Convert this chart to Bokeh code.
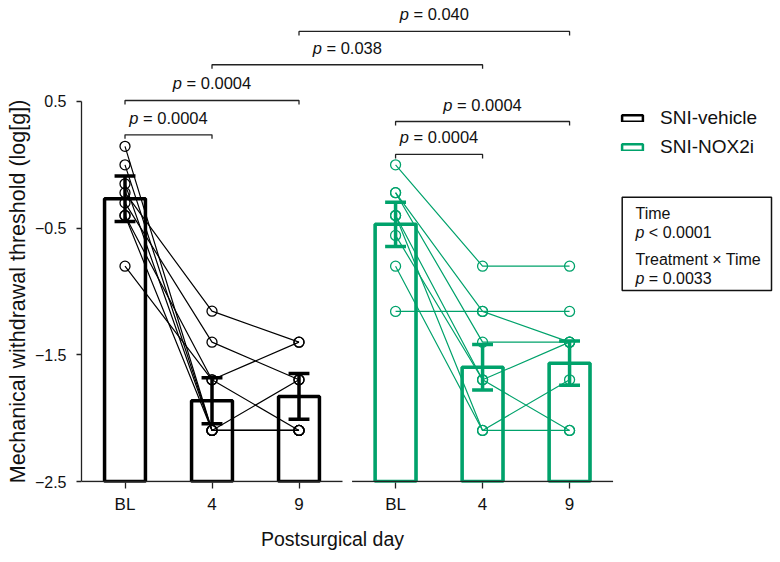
from bokeh.plotting import figure
from bokeh.models import Range1d, FixedTicker, Legend, LegendItem, Title
from bokeh.core.properties import value
from bokeh.embed import file_html
from bokeh.resources import INLINE

FONT = "Liberation Sans"

# ---------------- data ----------------
days = ["BL", "4", "9"]
group_names = ["SNI-vehicle", "SNI-NOX2i"]
group_colors = ["#000000", "#00A26B"]
x_title = "Postsurgical day"
y_title = "Mechanical withdrawal threshold (log[g])"

# individual animals, mechanical withdrawal threshold (log[g])
veh_bl = [0.146, 0.0, -0.15, -0.22, -0.30, -0.40, -0.80, -0.40]
veh_d4 = [-2.097, -2.097, -2.097, -1.155, -1.40, -1.697, -1.697, -2.097]
veh_d9 = [-2.097, -1.697, -2.097, -1.40, -1.697, -1.40, -2.097, -2.097]

nox_bl = [0.0, -1.157, -0.22, -0.22, -0.40, -0.40, -0.557, -0.80]
nox_d4 = [-0.80, -1.157, -1.157, -1.40, -1.697, -2.097, -1.697, -2.097]
nox_d9 = [-0.80, -1.157, -1.40, -1.40, -1.40, -1.697, -2.097, -2.097]

# group means and SEM (bars / error bars)
veh_mean = [-0.268, -1.862, -1.828]
veh_sem = [0.179, 0.182, 0.180]
nox_mean = [-0.470, -1.598, -1.566]
nox_sem = [0.175, 0.180, 0.175]

# pairwise comparisons: group/day of each end, p value, bracket height
cmp_ga = [0, 0, 1, 1, 0, 0]
cmp_da = [0, 0, 0, 0, 1, 2]
cmp_gb = [0, 0, 1, 1, 1, 1]
cmp_db = [1, 2, 1, 2, 1, 2]
cmp_p = ["0.0004", "0.0004", "0.0004", "0.0004", "0.038", "0.040"]
cmp_y = [0.237, 0.508, 0.082, 0.342, 0.790, 1.053]

# two-way ANOVA summary
stats_terms = ["Time", "Treatment × Time"]
stats_p = ["< 0.0001", "= 0.0033"]

# ---------------- layout constants ----------------
GROUP_SHIFT = 3.11
BAR_W = 0.47
CAP = 0.12
Y_MIN, Y_MAX = -2.5, 0.5
PX_X = 87.0      # pixels per x unit
PX_Y = 126.67    # pixels per y unit
LEFT = 81        # frame left (px)
Y05 = 101        # pixel row of y = 0.5
FRAME_BOTTOM = 482
X_TITLE_CENTER = 332   # page px


def xpos(g, d):
    return g * GROUP_SHIFT + d


# Arial / Liberation Sans advance widths (em)
CW = {"p": .556, " ": .278, "=": .584, "<": .584, ".": .278, "a": .556, "b": .556,
      "c": .5, "d": .556, "e": .556, "g": .556, "h": .556, "i": .222, "l": .222,
      "m": .833, "n": .556, "o": .556, "r": .333, "s": .5, "t": .278, "u": .556,
      "w": .722, "y": .5, "M": .833, "P": .667, "(": .333, ")": .333, "[": .278, "]": .278}


def tw(s, size):
    return sum(CW.get(c, 0.556) for c in s) * size


W, H = 780, 562
p = figure(width=W, height=H,
           x_range=Range1d(-0.5, -0.5 + (W - LEFT) / PX_X),
           y_range=Range1d(Y_MIN - 1 / PX_Y, Y_MAX + Y05 / PX_Y),
           output_backend="svg", toolbar_location=None,
           min_border_left=LEFT, min_border_right=0, min_border_top=0,
           min_border_bottom=H - FRAME_BOTTOM)
p.outline_line_color = None
p.xgrid.visible = False
p.ygrid.visible = False
p.background_fill_color = "white"

all_subj = [(veh_bl, veh_d4, veh_d9), (nox_bl, nox_d4, nox_d9)]
all_mean = [veh_mean, nox_mean]
all_sem = [veh_sem, nox_sem]

legend_renderers = []
for g in range(2):
    col = group_colors[g]
    xs = [xpos(g, d) for d in range(3)]
    # thinner copy of the bars underneath: used for the legend swatch
    legend_renderers.append(p.vbar(x=xs, top=all_mean[g], bottom=Y_MIN, width=BAR_W,
                                   fill_color=None, line_color=col, line_width=2.5))
    # bars
    p.vbar(x=xs, top=all_mean[g], bottom=Y_MIN, width=BAR_W,
           fill_color=None, line_color=col, line_width=3.5)
    # individual trajectories
    bl, d4, d9 = all_subj[g]
    lx = [xs for _ in bl]
    ly = [[a, b, c] for a, b, c in zip(bl, d4, d9)]
    p.multi_line(xs=lx, ys=ly, line_color=col, line_width=1.2)
    px, py = [], []
    for d, arr in enumerate(all_subj[g]):
        px += [xs[d]] * len(arr)
        py += list(arr)
    p.scatter(x=px, y=py, marker="circle", size=10, fill_color=None,
              line_color=col, line_width=1.3)
    # error bars
    m, s = all_mean[g], all_sem[g]
    lo = [a - b for a, b in zip(m, s)]
    hi = [a + b for a, b in zip(m, s)]
    p.segment(x0=xs, x1=xs, y0=lo, y1=hi, line_color=col, line_width=3.5)
    p.segment(x0=[x - CAP for x in xs], x1=[x + CAP for x in xs], y0=hi, y1=hi,
              line_color=col, line_width=3.5)
    p.segment(x0=[x - CAP for x in xs], x1=[x + CAP for x in xs], y0=lo, y1=lo,
              line_color=col, line_width=3.5)
    # broken x-axis baseline for this group
    p.segment(x0=[xs[0] - 0.5], x1=[xs[-1] + 0.5], y0=[Y_MIN], y1=[Y_MIN],
              line_color="#222222", line_width=1.3)

# comparison brackets
DROP = 0.032
bx, by, tx, ty, t_rest, off_p, off_r = [], [], [], [], [], [], []
for ga, da, gb, db, pv, yy in zip(cmp_ga, cmp_da, cmp_gb, cmp_db, cmp_p, cmp_y):
    x1, x2 = xpos(ga, da), xpos(gb, db)
    bx.append([x1, x1, x2, x2])
    by.append([yy - DROP, yy, yy, yy - DROP])
    tx.append((x1 + x2) / 2)
    ty.append(yy)
    rest = "= " + pv
    Wt = tw("p " + rest, 16.5)
    off_p.append(-Wt / 2)
    off_r.append(-Wt / 2 + tw("p ", 16.5))
    t_rest.append(rest)
p.multi_line(xs=bx, ys=by, line_color="#222222", line_width=1.3)
p.text(x=tx, y=ty, text=["p"] * len(tx), x_offset=off_p, y_offset=-17,
       text_font=value(FONT), text_font_size="16.5px", text_font_style="italic",
       text_align="left", text_baseline="middle", text_color="#111111")
p.text(x=tx, y=ty, text=t_rest, x_offset=off_r, y_offset=-17,
       text_font=value(FONT), text_font_size="16.5px",
       text_align="left", text_baseline="middle", text_color="#111111")

# legend
legend = Legend(items=[LegendItem(label=group_names[i], renderers=[legend_renderers[i]]) for i in range(2)],
                location=(619 - LEFT, FRAME_BOTTOM - 158), border_line_color=None,
                background_fill_alpha=0, padding=0, margin=0, spacing=7,
                glyph_width=26, glyph_height=8, label_standoff=15, label_height=22,
                label_text_font=FONT, label_text_font_size="19px",
                label_text_color="#111111")
p.add_layout(legend)


# statistics box (positions given in page pixels, converted to data units)
def sx(X):
    return -0.5 + (X - LEFT) / PX_X


def sy(Y):
    return Y_MAX - (Y - Y05) / PX_Y


p.quad(left=[sx(621.7)], right=[sx(771)], top=[sy(196.7)], bottom=[sy(290)],
       fill_color=None, line_color="#111111", line_width=1.5)
row_y = [212.7, 231.7, 259.3, 278.3]
tx0 = sx(635)
for i in range(2):
    p.text(x=[tx0], y=[sy(row_y[2 * i])], text=[stats_terms[i]],
           text_font=value(FONT), text_font_size="16px",
           text_align="left", text_baseline="middle", text_color="#111111")
    p.text(x=[tx0], y=[sy(row_y[2 * i + 1])], text=["p"],
           text_font=value(FONT), text_font_size="16px", text_font_style="italic",
           text_align="left", text_baseline="middle", text_color="#111111")
    p.text(x=[tx0], y=[sy(row_y[2 * i + 1])], text=[stats_p[i]], x_offset=tw("p ", 16),
           text_font=value(FONT), text_font_size="16px",
           text_align="left", text_baseline="middle", text_color="#111111")

# axes
tick_pos = [xpos(g, d) for g in range(2) for d in range(3)]
p.xaxis.ticker = FixedTicker(ticks=tick_pos)
p.xaxis.major_label_overrides = {xpos(g, d): days[d] for g in range(2) for d in range(3)}
p.xaxis.axis_line_color = None
p.xaxis.major_tick_out = 6
p.xaxis.major_tick_in = 0
p.xaxis.minor_tick_line_color = None
p.xaxis.major_tick_line_width = 1.3
p.xaxis.major_tick_line_color = "#222222"
p.xaxis.major_label_text_font = FONT
p.xaxis.major_label_text_font_size = "17px"
p.xaxis.major_label_text_color = "#111111"
p.xaxis.major_label_standoff = 6

yt = [-2.5, -1.5, -0.5, 0.5]
p.yaxis.ticker = FixedTicker(ticks=yt)
p.yaxis.major_label_overrides = {v: ("%.1f" % v).replace("-", "\u2212") for v in yt}
p.yaxis.bounds = (Y_MIN, Y_MAX)
p.yaxis.axis_line_width = 1.3
p.yaxis.axis_line_color = "#222222"
p.yaxis.major_tick_out = 5
p.yaxis.major_tick_in = 0
p.yaxis.minor_tick_line_color = None
p.yaxis.major_tick_line_width = 1.3
p.yaxis.major_tick_line_color = "#222222"
p.yaxis.major_label_text_font = FONT
p.yaxis.major_label_text_font_size = "16px"
p.yaxis.major_label_text_color = "#111111"
p.yaxis.major_label_standoff = 10

# axis titles as side titles, left-aligned with an offset to place them
XT_SIZE, YT_SIZE = 19.5, 21.5
y_axis_mid_px = Y05 + (Y_MAX - (Y_MIN + Y_MAX) / 2) * PX_Y                  # from page top
p.add_layout(Title(text=x_title, align="left",
                   offset=X_TITLE_CENTER - LEFT - tw(x_title, XT_SIZE) / 2,
                   standoff=19, text_font=FONT, text_font_size="%spx" % XT_SIZE,
                   text_font_style="normal", text_color="#111111"), "below")
p.add_layout(Title(text=y_title, align="left",
                   offset=FRAME_BOTTOM - (y_axis_mid_px + tw(y_title, YT_SIZE) / 2),
                   standoff=3, text_font=FONT, text_font_size="%spx" % YT_SIZE,
                   text_font_style="normal", text_color="#111111"), "left")

open("out.html", "w").write(file_html(p, INLINE))
